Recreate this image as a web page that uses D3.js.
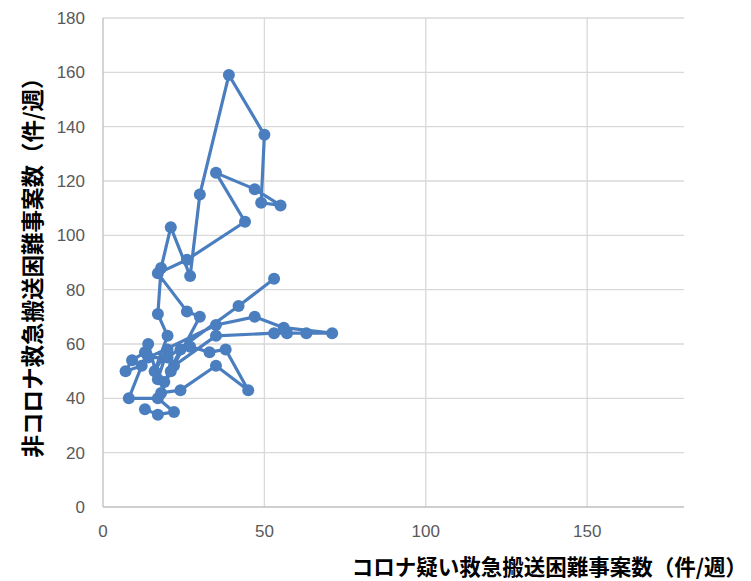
<!DOCTYPE html>
<html><head><meta charset="utf-8">
<script src="https://cdn.jsdelivr.net/npm/d3@7"></script>
<style>body{margin:0;background:#fff}</style>
</head><body>
<svg id="c" width="751" height="581"></svg>
<script>
const coronaSuspected = [13,17,22,17,8,12,7,9,13,14,17,20,16,20,17,18,21,27,30,39,50,49,55,47,35,44,26,17,26,30,21,18,24,35,45,38,33,27,24,19,22,35,53,57,63,71,56,47,35,14,20,42,53];
const nonCorona       = [36,34,35,40,40,52,50,54,57,60,47,58,50,63,71,88,103,85,115,159,137,112,111,117,123,105,91,86,72,70,50,42,43,52,43,58,57,59,58,46,52,63,64,64,64,64,66,70,67,55,55,74,84];
const xTicks = [0,50,100,150];
const yTicks = [0,20,40,60,80,100,120,140,160,180];
const xLabel = "コロナ疑い救急搬送困難事案数（件/週）";
const yLabel = "非コロナ救急搬送困難事案数（件/週）";

const svg = d3.select("#c");
const L=103,R=684,T=18,B=507;
const x = d3.scaleLinear().domain([0,180]).range([L,R]);
const y = d3.scaleLinear().domain([0,180]).range([B,T]);

svg.append("g").selectAll("line").data(yTicks.filter(d=>d>0)).join("line")
  .attr("x1",L).attr("x2",R).attr("y1",d=>y(d)).attr("y2",d=>y(d))
  .attr("stroke","#d9d9d9").attr("stroke-width",1.3);
svg.append("g").selectAll("line").data(xTicks.filter(d=>d>0)).join("line")
  .attr("y1",T).attr("y2",B).attr("x1",d=>x(d)).attr("x2",d=>x(d))
  .attr("stroke","#d9d9d9").attr("stroke-width",1.3);
svg.append("line").attr("x1",L).attr("x2",L).attr("y1",T).attr("y2",B).attr("stroke","#bfbfbf").attr("stroke-width",1.3);
svg.append("line").attr("x1",L).attr("x2",R).attr("y1",B).attr("y2",B).attr("stroke","#bfbfbf").attr("stroke-width",1.3);

const tf = "'Liberation Sans','Open Sans',sans-serif";
svg.append("g").selectAll("text").data(yTicks).join("text")
  .attr("x",85).attr("y",d=>y(d)+6).attr("text-anchor","end")
  .attr("font-family",tf).attr("font-size",17).attr("fill","#595959").text(d=>d);
svg.append("g").selectAll("text").data(xTicks).join("text")
  .attr("x",d=>x(d)).attr("y",537).attr("text-anchor","middle")
  .attr("font-family",tf).attr("font-size",17).attr("fill","#595959").text(d=>d);

const jf = "'Noto Sans CJK JP',sans-serif";
svg.append("text").attr("transform","translate(41,262) rotate(-90)").attr("text-anchor","middle")
  .attr("font-family",jf).attr("font-weight","bold").attr("font-size",22.5).attr("fill","#000").text(yLabel);
svg.append("text").attr("x",747).attr("y",575).attr("text-anchor","end")
  .attr("font-family",jf).attr("font-weight","bold").attr("font-size",21.5).attr("fill","#000").text(xLabel);

const pts = coronaSuspected.map((v,i)=>[v,nonCorona[i]]);
const col = "#4a7ebf";
svg.append("path").datum(pts)
  .attr("d",d3.line().x(d=>x(d[0])).y(d=>y(d[1])))
  .attr("fill","none").attr("stroke",col).attr("stroke-width",3.2).attr("stroke-linejoin","round");
svg.append("g").selectAll("circle").data(pts).join("circle")
  .attr("cx",d=>x(d[0])).attr("cy",d=>y(d[1])).attr("r",6).attr("fill",col);
</script>
</body></html>
